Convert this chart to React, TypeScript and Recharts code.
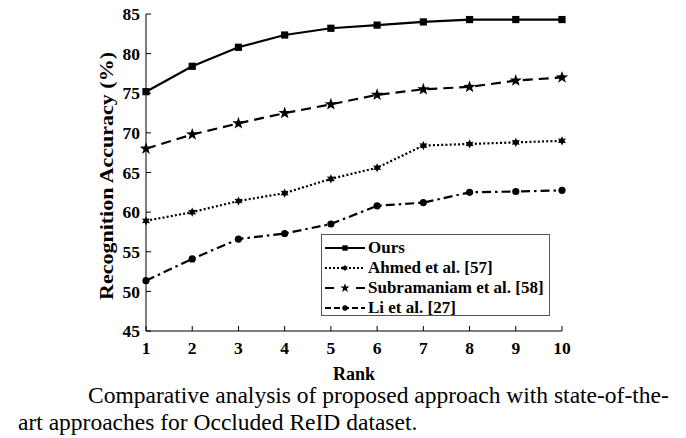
import React from "react";
import { LineChart, Line, XAxis, YAxis } from "recharts";

const RANKS = [1, 2, 3, 4, 5, 6, 7, 8, 9, 10];
const OURS = [75.2, 78.4, 80.8, 82.35, 83.2, 83.6, 84.0, 84.3, 84.3, 84.3];
const AHMED = [58.9, 60.0, 61.4, 62.4, 64.2, 65.6, 68.4, 68.6, 68.8, 69.0];
const SUBRAMANIAM = [68.0, 69.8, 71.2, 72.5, 73.6, 74.8, 75.5, 75.8, 76.6, 77.0];
const LI = [51.35, 54.1, 56.6, 57.3, 58.5, 60.8, 61.2, 62.5, 62.6, 62.75];
const Y_TICKS = [45, 50, 55, 60, 65, 70, 75, 80, 85];

const SERIES = [
  { key: "ours", name: "Ours", values: OURS, dash: undefined, legendDash: undefined, marker: "square" },
  { key: "ahmed", name: "Ahmed et al. [57]", values: AHMED, dash: "2 2.2", legendDash: "2 2", marker: "hexagram" },
  { key: "sub", name: "Subramaniam et al. [58]", values: SUBRAMANIAM, dash: "10 6", legendDash: "9 22 9", marker: "pentagram" },
  { key: "li", name: "Li et al. [27]", values: LI, dash: "9 4 2.5 4", legendDash: "6 3", marker: "circle" },
];

const data = RANKS.map((rank, i) => {
  const row: Record<string, number> = { rank };
  SERIES.forEach((s) => (row[s.key] = s.values[i]));
  return row;
});

const FONT = "Liberation Serif, DejaVu Serif, serif";

function starPoints(cx: number, cy: number, n: number, outer: number, inner: number) {
  const pts: string[] = [];
  for (let i = 0; i < n * 2; i++) {
    const r = i % 2 === 0 ? outer : inner;
    const a = -Math.PI / 2 + (i * Math.PI) / n;
    pts.push(`${cx + r * Math.cos(a)},${cy + r * Math.sin(a)}`);
  }
  return pts.join(" ");
}

function Marker({ type, cx, cy, k = 1 }: { type: string; cx: number; cy: number; k?: number }) {
  if (type === "square") return <rect x={cx - 3.6 * k} y={cy - 3.6 * k} width={7.2 * k} height={7.2 * k} fill="#000" />;
  if (type === "circle") return <circle cx={cx} cy={cy} r={3.6 * k} fill="#000" />;
  if (type === "pentagram") return <polygon points={starPoints(cx, cy, 5, 6.5 * k, 2.6 * k)} fill="#000" />;
  return <polygon points={starPoints(cx, cy, 6, 4.6 * k, 2.4 * k)} fill="#000" />;
}

function makeDot(type: string) {
  return (props: any) => {
    const { cx, cy, index } = props;
    if (cx == null || cy == null) return <g key={index} />;
    return <Marker key={index} type={type} cx={cx} cy={cy} />;
  };
}

function LegendBox() {
  return (
    <div
      style={{
        position: "absolute",
        left: 321,
        top: 234,
        width: 229,
        height: 82,
        border: "1px solid #555",
        background: "#fff",
        fontFamily: FONT,
        fontWeight: "bold",
        fontSize: 17,
        color: "#000",
        padding: "3px 0 0 1px",
        boxSizing: "border-box",
      }}
    >
      {SERIES.map((s) => (
        <div key={s.key} style={{ display: "flex", alignItems: "center", height: 20, whiteSpace: "nowrap" }}>
          <svg width={44} height={14} style={{ flex: "none" }}>
            <line x1={2} y1={7} x2={42} y2={7} stroke="#000" strokeWidth={2} strokeDasharray={s.legendDash} />
            <Marker type={s.marker} cx={22} cy={7} k={0.75} />
          </svg>
          <span style={{ marginLeft: 1 }}>{s.name}</span>
        </div>
      ))}
    </div>
  );
}

function YLabel(props: any) {
  const { viewBox } = props;
  const x = viewBox.x + 1;
  const y = viewBox.y + viewBox.height / 2 + 3.5;
  return (
    <text
      x={x}
      y={y}
      transform={`rotate(-90 ${x} ${y})`}
      textAnchor="middle"
      dominantBaseline="central"
      textLength={248}
      lengthAdjust="spacingAndGlyphs"
      fontFamily={FONT}
      fontWeight="bold"
      fontSize={18}
      fill="#000"
    >
      Recognition Accuracy (%)
    </text>
  );
}

const tickStyle = { fontFamily: FONT, fontWeight: "bold" as const, fontSize: 17.5, fill: "#000" };

export default function App() {
  return (
    <div style={{ position: "absolute", left: 0, top: 0, width: 686, height: 438, background: "#fff" }}>
      <LineChart width={686} height={390} data={data} margin={{ top: 14, right: 124, bottom: 29, left: 106 }}>
        <XAxis
          dataKey="rank"
          type="number"
          domain={[1, 10]}
          ticks={RANKS}
          tickSize={-5}
          tickMargin={16}
          tick={tickStyle}
          stroke="#000"
          height={30}
          label={{
            value: "Rank",
            position: "bottom",
            offset: 6,
            style: { fontFamily: FONT, fontWeight: "bold", fontSize: 18, fill: "#000" },
          }}
        />
        <XAxis
          xAxisId="top"
          orientation="top"
          dataKey="rank"
          type="number"
          domain={[1, 10]}
          ticks={RANKS}
          tickSize={-5}
          tick={false}
          stroke="#000"
          height={0}
        />
        <YAxis
          type="number"
          domain={[45, 85]}
          ticks={Y_TICKS}
          tickSize={-5}
          tickMargin={11}
          tick={tickStyle}
          stroke="#000"
          width={40}
          label={{ value: "Recognition Accuracy (%)", content: YLabel }}
        />
        <YAxis
          yAxisId="right"
          orientation="right"
          type="number"
          domain={[45, 85]}
          ticks={Y_TICKS}
          tickSize={-5}
          tick={false}
          stroke="#000"
          width={0}
        />
        {SERIES.map((s) => (
          <Line
            key={s.key}
            dataKey={s.key}
            name={s.name}
            type="linear"
            stroke="#000"
            strokeWidth={2.2}
            strokeDasharray={s.dash}
            dot={makeDot(s.marker)}
            activeDot={false}
            isAnimationActive={false}
          />
        ))}
      </LineChart>
      <LegendBox />
      <div
        style={{
          position: "absolute",
          left: 0,
          top: 382,
          width: 686,
          fontFamily: FONT,
          fontSize: 23.5,
          lineHeight: "27px",
          color: "#000",
          whiteSpace: "nowrap",
        }}
      >
        <div style={{ paddingLeft: 88 }}>Comparative analysis of proposed approach with state-of-the-</div>
        <div style={{ paddingLeft: 18 }}>art approaches for Occluded ReID dataset.</div>
      </div>
    </div>
  );
}
